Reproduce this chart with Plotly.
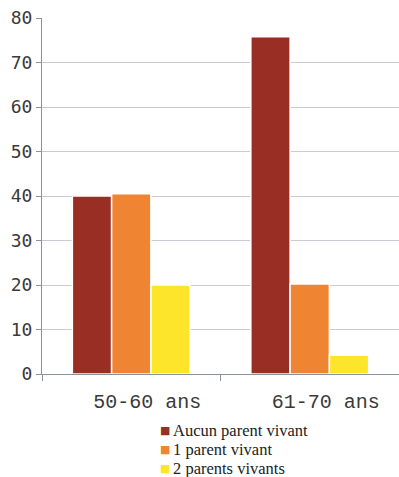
import plotly.graph_objects as go

age_groups = ["50-60 ans", "61-70 ans"]
series_names = ["Aucun parent vivant", "1 parent vivant", "2 parents vivants"]
aucun = [40, 75.8]
un_parent = [40.5, 20.2]
deux_parents = [20, 4.2]
y_ticks = [0, 10, 20, 30, 40, 50, 60, 70, 80]

colors = ["#992f24", "#ef8432", "#fde52b"]

fig = go.Figure()
for name, vals, col in zip(series_names, [aucun, un_parent, deux_parents], colors):
    fig.add_trace(go.Bar(
        x=age_groups, y=vals, name=name,
        marker=dict(color=col, line=dict(color="white", width=1.5)),
    ))

# compact legend drawn as annotations below the plot (tight line spacing)
legend_y0 = -0.160
legend_dy = 0.0534
for i, (name, col) in enumerate(zip(series_names, colors)):
    y = legend_y0 - i * legend_dy
    fig.add_annotation(
        xref="paper", yref="paper", x=0.3445, y=y, xanchor="center", yanchor="middle",
        text="■", showarrow=False,
        font=dict(family="DejaVu Sans", size=11, color=col),
    )
    fig.add_annotation(
        xref="paper", yref="paper", x=0.362, y=y, xanchor="left", yanchor="middle",
        text=name, showarrow=False,
        font=dict(family="Liberation Serif", size=16.5, color="#222222"),
    )

fig.update_layout(
    width=399, height=477,
    margin=dict(l=42, r=0, t=18, b=103),
    plot_bgcolor="white", paper_bgcolor="white",
    barmode="group", bargap=0.34, bargroupgap=0,
    showlegend=False,
    xaxis=dict(
        range=[-0.5, 1.5],
        showline=True, linecolor="#8c929a", linewidth=1,
        ticks="outside", tickson="boundaries", ticklen=6, tickcolor="#8c929a",
        tickfont=dict(family="Liberation Mono", size=20, color="#3a3a3a"),
        ticklabelshift=16, ticklabelstandoff=9,
        showgrid=False,
    ),
    yaxis=dict(
        range=[0, 80], tickvals=y_ticks,
        showline=True, linecolor="#8c929a", linewidth=1,
        ticks="outside", ticklen=5, tickcolor="#8c929a",
        tickfont=dict(family="DejaVu Sans Mono", size=18, color="#3a3a3a"),
        showgrid=True, gridcolor="#c9cdd3", gridwidth=1,
        zeroline=False,
    ),
)

fig.write_html("out.html")
